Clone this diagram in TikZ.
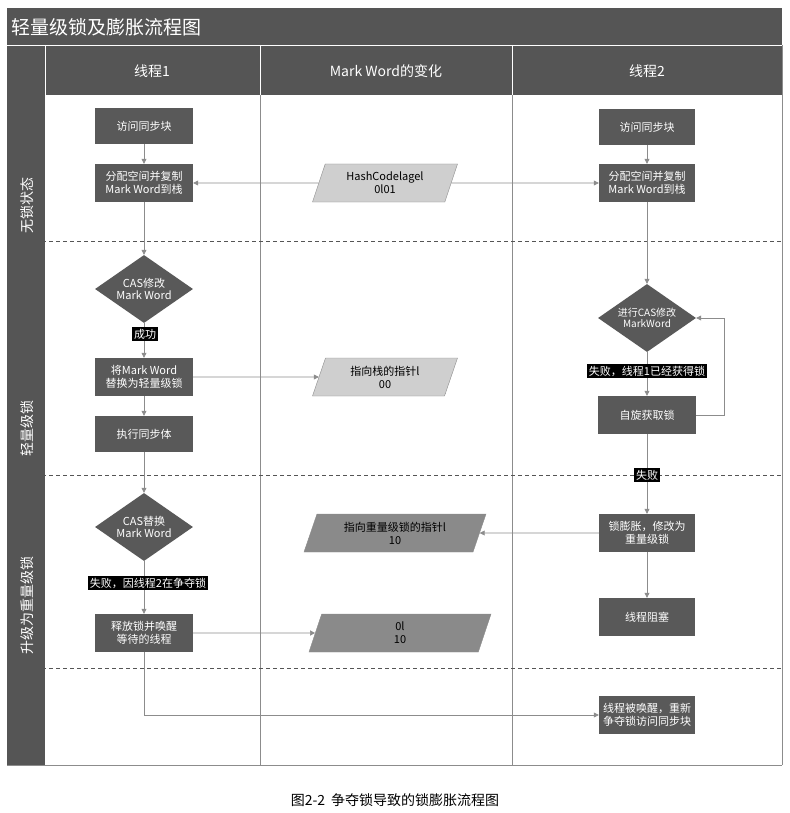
\documentclass[tikz,border=0pt]{standalone}
\usepackage{fontspec}
\setmainfont{Noto Sans CJK SC}
\usetikzlibrary{arrows.meta}
\usetikzlibrary{shapes.geometric}
\definecolor{darkbar}{HTML}{555555}
\definecolor{boxgray}{HTML}{595959}
\definecolor{linegray}{HTML}{8C8C8C}
\definecolor{lightpar}{HTML}{CFCFCF}
\definecolor{midpar}{HTML}{8A8A8A}
\tikzset{
	flowbox/.style={fill=boxgray, text=white, font=\fontsize{11}{13}\selectfont, minimum width=98pt, minimum height=38pt, align=center, inner sep=1pt},
	decision/.style={diamond, fill=boxgray, text=white, font=\fontsize{11}{12}\selectfont, minimum width=98pt, minimum height=68pt, aspect=1.45, align=center, inner sep=0pt},
	wordbox/.style={trapezium, trapezium stretches body, trapezium left angle=62, trapezium right angle=118, draw=linegray, font=\fontsize{11}{13}\selectfont, minimum height=38pt, align=center, inner sep=1pt},
	tag/.style={fill=black, text=white, font=\fontsize{11}{13}\selectfont, inner sep=2pt},
	flow/.style={draw=linegray, semithick, -{Triangle[width=5pt,length=5pt]}},
}
\begin{document}
\begin{tikzpicture}[x=1pt, y=-1pt]
	\useasboundingbox (0,0) rectangle (789,813);

	% Frame, title and headers
	\fill[darkbar] (7,8) rectangle (782,45);
	\fill[darkbar] (7,45) rectangle (45,765);
	\fill[darkbar] (45,45) rectangle (782,95);
	\draw[white, thick] (7,45) -- (782,45);
	\draw[white, thick] (45,45) -- (45,765);
	\draw[linegray] (7,765) -- (782,765);
	\draw[white] (260,45) -- (260,95);
	\draw[white] (512,45) -- (512,95);
	\draw[linegray] (260,95) -- (260,765);
	\draw[linegray] (512,95) -- (512,765);
	\draw[linegray] (782,45) -- (782,765);
	\node[anchor=west, text=white, font=\fontsize{19}{22}\selectfont] (title) at (8,27) {轻量级锁及膨胀流程图};
	\node[text=white, font=\fontsize{14}{16}\selectfont] (head1) at (152,71) {线程1};
	\node[text=white, font=\fontsize{14}{16}\selectfont] (head2) at (386,71) {Mark Word的变化};
	\node[text=white, font=\fontsize{14}{16}\selectfont] (head3) at (647,71) {线程2};

	% Stages
	\node[rotate=90, text=white, font=\fontsize{14}{16}\selectfont] (stage1) at (27,205) {无锁状态};
	\node[rotate=90, text=white, font=\fontsize{14}{16}\selectfont] (stage2) at (27,428) {轻量级锁};
	\node[rotate=90, text=white, font=\fontsize{14}{16}\selectfont] (stage3) at (27,605) {升级为重量级锁};
	\foreach \y in {241,475,668}
		\draw[darkbar, thick, dash pattern=on 4pt off 3pt] (7,\y) -- (782,\y);

	% Thread 1
	\node[flowbox, minimum height=36pt] (t1access) at (144,126) {访问同步块};
	\node[flowbox] (t1copy) at (144,183) {分配空间并复制\\Mark Word到栈};
	\node[decision] (t1cas) at (144,289) {CAS修改\\Mark Word};
	\node[flowbox] (t1swap) at (144,377) {将Mark Word\\替换为轻量级锁};
	\node[flowbox, minimum height=36pt] (t1sync) at (144,434) {执行同步体};
	\node[decision] (t1replace) at (144,527) {CAS替换\\Mark Word};
	\node[flowbox] (t1release) at (144,633) {释放锁并唤醒\\等待的线程};

	% Mark Word
	\node[wordbox, fill=lightpar, minimum width=145pt] (mwhash) at (385,183) {HashCodelagel\\0l01};
	\node[wordbox, fill=lightpar, minimum width=145pt] (mwstack) at (385,377) {指向栈的指针l\\00};
	\node[wordbox, fill=midpar, minimum width=182pt] (mwheavy) at (395,533) {指向重量级锁的指针l\\10};
	\node[wordbox, fill=midpar, minimum width=182pt] (mwfree) at (400,633) {0l\\10};

	% Thread 2
	\node[flowbox, minimum width=96pt, minimum height=36pt] (t2access) at (647,127) {访问同步块};
	\node[flowbox, minimum width=96pt] (t2copy) at (647,183) {分配空间并复制\\Mark Word到栈};
	\node[decision, font=\fontsize{10}{11}\selectfont] (t2cas) at (647,318) {进行CAS修改\\MarkWord};
	\node[flowbox] (t2spin) at (647,415) {自旋获取锁};
	\node[flowbox, minimum width=96pt] (t2inflate) at (647,533) {锁膨胀，修改为\\重量级锁};
	\node[flowbox, minimum width=96pt] (t2block) at (647,617) {线程阻塞};
	\node[flowbox, minimum width=96pt] (t2wake) at (647,715) {线程被唤醒，重新\\争夺锁访问同步块};

	% Connectors
	\draw[flow] (t1access) -- (t1copy);
	\draw[flow] (t1copy) -- (t1cas);
	\draw[flow] (t1cas) -- (t1swap);
	\draw[flow] (t1swap) -- (t1sync);
	\draw[flow] (t1sync) -- (t1replace);
	\draw[flow] (t1replace) -- (t1release);
	\draw[flow] (mwhash) -- (t1copy);
	\draw[flow] (mwhash) -- (t2copy);
	\draw[flow] (t1swap) -- (mwstack);
	\draw[flow] (t1release) -- (mwfree);
	\draw[flow] (t1release.south) |- (t2wake.west);
	\draw[flow] (t2access) -- (t2copy);
	\draw[flow] (t2copy) -- (t2cas);
	\draw[flow] (t2cas) -- (t2spin);
	\draw[flow] (t2spin.east) -- (724,415) |- (t2cas.east);
	\draw[flow] (t2spin) -- (t2inflate);
	\draw[flow] (t2inflate) -- (mwheavy);
	\draw[flow] (t2inflate) -- (t2block);

	% Tags
	\node[tag] (ok) at (145,334) {成功};
	\node[tag] (fail1) at (647,371) {失败，线程1已经获得锁};
	\node[tag] (fail2) at (647,475) {失败};
	\node[tag] (fail3) at (148,583) {失败，因线程2在争夺锁};

	% Caption
	\node[font=\fontsize{14}{16}\selectfont] (caption) at (395,800) {图2-2\hspace{6pt}争夺锁导致的锁膨胀流程图};
\end{tikzpicture}
\end{document}
